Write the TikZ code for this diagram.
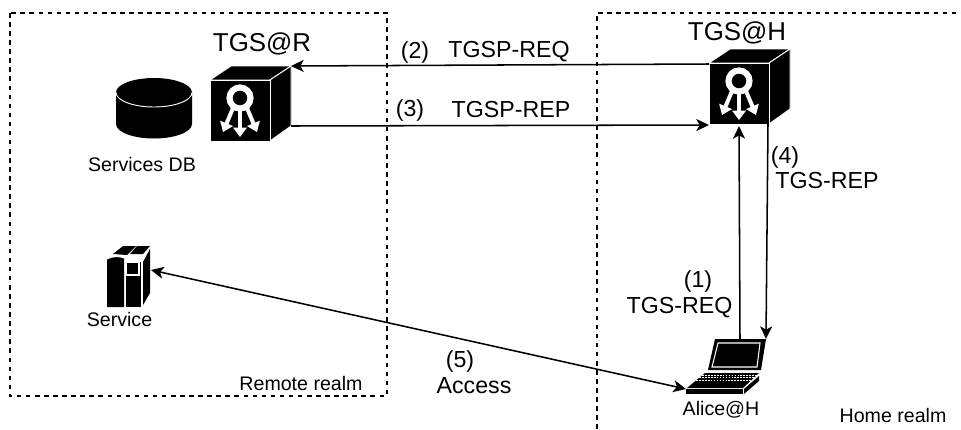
\documentclass[tikz,border=0pt]{standalone}
\usepackage{fontspec}
\setmainfont{Liberation Sans}
\usetikzlibrary{arrows.meta,calc}
\tikzset{
  realm/.style={draw=black,line width=1.1pt,dash pattern=on 3.4pt off 3.4pt},
  link/.style={draw=black,line width=1.15pt,-{Stealth[length=9.5pt,width=9pt,inset=2.5pt]}},
  dlink/.style={draw=black,line width=1.15pt,{Stealth[length=9.5pt,width=9pt,inset=2.5pt]}-{Stealth[length=9.5pt,width=9pt,inset=2.5pt]}},
  big/.style={font=\fontsize{19.4}{21}\selectfont,inner sep=0pt},
  lab/.style={font=\fontsize{17.4}{19}\selectfont,inner sep=0pt},
  small/.style={font=\fontsize{14.7}{16}\selectfont,inner sep=0pt},
  solid black/.style={fill=black,draw=white,line width=0.7pt,line join=round},
  whitearrow/.style={draw=white,line width=3pt,-{Triangle[length=7pt,width=10pt,fill=white]}},
}
\newcommand{\tgscube}[3]{%
  \begin{scope}[shift={(#2,#3)}]
    \fill[black] (0,0)--(23,-14)--(81,-14)--(81,46)--(60,61)--(0,61)--cycle;
    \draw[solid black] (0,0)--(21,-14)--(81,-14)--(60,0)--cycle;
    \draw[solid black] (60,0)--(81,-14)--(81,46)--(60,61)--cycle;
    \draw[solid black] (0,0) rectangle (60,61);
    \draw[white,line width=4.6pt] (30,18) circle (10.5);
    \draw[whitearrow] (30,29)--(30,57);
    \draw[whitearrow] (23,28)--(13,52);
    \draw[whitearrow] (37,28)--(47,52);
  \end{scope}}
\begin{document}
\begin{tikzpicture}[x=0.75pt,y=-0.75pt]
\useasboundingbox (0,0) rectangle (961,429);
\fill[white] (0,0) rectangle (961,429);
% realms
\draw[realm] (10,13) rectangle (387,396);
\coordinate (hbl) at (597,429);
\coordinate (htl) at (597,13);
\coordinate (htr) at (961,13);
\draw[realm] (hbl)--(htl)--(htr);
% database
\fill[black] (116,92.5) -- (116,124) arc[start angle=180,end angle=0,x radius=38,y radius=14.5] -- (192,92.5) -- cycle;
\fill[black] (154,92.5) ellipse[x radius=38,y radius=14.5];
\draw[white,line width=0.7pt] (116,92.5) arc[start angle=180,end angle=0,x radius=38,y radius=14.5];
\node[small] (dblabel) at (142,164) {Services DB};
% cubes
\tgscube{r}{210}{80}
\tgscube{h}{709}{63}
\coordinate (rtop) at (291,66);
\coordinate (rbot) at (291,126);
\coordinate (htop) at (709,64);
\coordinate (hleft) at (709,125);
\coordinate (hup) at (739,126);
\coordinate (hdown) at (768,124);
\node[big] (rname) at (262,44) {TGS@R};
\node[big] (hname) at (737,33) {TGS@H};
% service
\begin{scope}
  \fill[black] (113,254)--(123,246)--(136,246)--(127,255)--cycle;
  \fill[black] (130,254)--(137,246)--(150,246)--(143,254)--cycle;
  \fill[black] (107,259) .. controls (112,256) and (120,256) .. (124,258) -- (124,307) -- (107,307) -- cycle;
  \fill[black] (126,262) rectangle (141,307);
  \fill[black] (143,262)--(150,249)--(150,293)--(143,305)--cycle;
  \draw[white,line width=1.2pt] (126,262.5) rectangle (139,275);
  \fill[black] (128,264.5) rectangle (137,273);
  \draw[white,line width=0.7pt] (107,259) .. controls (112,256) and (120,256) .. (124,258);
\end{scope}
\coordinate (svc) at (151,270);
\node[small] (svclabel) at (119.5,319) {Service};
% laptop
\begin{scope}
  \fill[black] (715,339)--(766,339)--(761,370)--(708,370)--cycle;
  \draw[white,line width=0.8pt] (718,343)--(760,343)--(757,367)--(712,367)--cycle;
  \fill[black] (705,373)--(759,373)--(743,388)--(687,388)--cycle;
  \foreach \t in {0.15,0.32,0.49}
    \draw[white,line width=0.9pt,dash pattern=on 1.2pt off 1pt]
      ($(705,373)!\t!(687,388)$)--($(759,373)!\t!(743,388)$);
  \fill[black] (686,389)--(743,389)--(743,394)--(686,394)--cycle;
  \fill[black] (744,389)--(759,376)--(759,381)--(744,394)--cycle;
\end{scope}
\coordinate (lapleft) at (686,389);
\coordinate (lapup) at (740,339);
\coordinate (lapdown) at (766,339);
\node[small] (alicelabel) at (721,410) {Alice@H};
% connectors
\draw[link] (htop)--(rtop);
\draw[link] (rbot)--(hleft);
\draw[link] (lapup)--(hup);
\draw[link] (hdown)--(lapdown);
\draw[dlink] (svc)--(lapleft);
% labels
\node[lab] (n2) at (415,52) {(2)};
\node[lab] (l2) at (509,52) {TGSP-REQ};
\node[lab] (n3) at (410,110) {(3)};
\node[lab] (l3) at (511,110) {TGSP-REP};
\node[lab] (n4) at (785,157) {(4)};
\node[lab] (l4) at (827,181) {TGS-REP};
\node[lab] (n1) at (698,281) {(1)};
\node[lab] (l1) at (679.5,308) {TGS-REQ};
\node[lab] (n5) at (460,361) {(5)};
\node[lab] (l5) at (474,386) {Access};
\node[small] (rr) at (301,383) {Remote realm};
\node[small] (hr) at (893,415) {Home realm};
\end{tikzpicture}
\end{document}
